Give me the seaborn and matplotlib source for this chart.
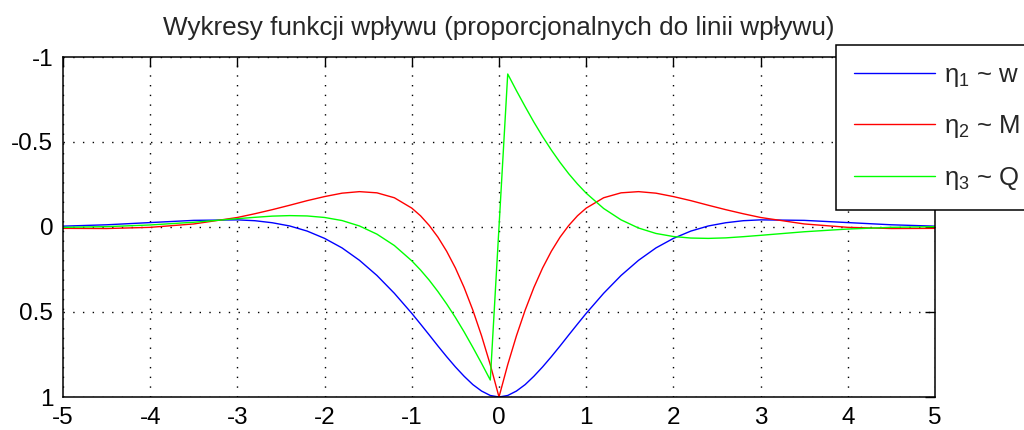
import matplotlib
matplotlib.use("Agg")
import matplotlib.pyplot as plt
import seaborn as sns
import pandas as pd

x = [-5.0, -4.5, -4.0, -3.5, -3.0, -2.8, -2.6, -2.4, -2.2, -2.0, -1.8, -1.6, -1.4, -1.2,
     -1.0, -0.9, -0.8, -0.7, -0.6, -0.5, -0.4, -0.3, -0.2, -0.1, 0.0,
     0.1, 0.2, 0.3, 0.4, 0.5, 0.6, 0.7, 0.8, 0.9, 1.0,
     1.2, 1.4, 1.6, 1.8, 2.0, 2.2, 2.4, 2.6, 2.8, 3.0, 3.5, 4.0, 4.5, 5.0]

eta1 = [-0.005, -0.013, -0.026, -0.039, -0.042, -0.037, -0.025, -0.006, 0.024, 0.067, 0.123, 0.196,
        0.285, 0.390, 0.508, 0.571, 0.635, 0.700, 0.763, 0.823, 0.878, 0.927, 0.965, 0.991, 1.000,
        0.991, 0.965, 0.927, 0.878, 0.823, 0.763, 0.700, 0.635, 0.571, 0.508,
        0.390, 0.285, 0.196, 0.123, 0.067, 0.024, -0.006, -0.025, -0.037, -0.042, -0.039, -0.026, -0.013, -0.005]

eta2 = [0.008, 0.009, 0.002, -0.018, -0.056, -0.078, -0.102, -0.128, -0.155, -0.179, -0.199, -0.208,
        -0.201, -0.172, -0.111, -0.066, -0.009, 0.060, 0.143, 0.241, 0.356, 0.489, 0.640, 0.810, 1.000,
        0.810, 0.640, 0.489, 0.356, 0.241, 0.143, 0.060, -0.009, -0.066, -0.111,
        -0.172, -0.201, -0.208, -0.199, -0.179, -0.155, -0.128, -0.102, -0.078, -0.056, -0.018, 0.002, 0.009, 0.008]

eta3 = [0.002, -0.002, -0.012, -0.028, -0.049, -0.057, -0.064, -0.067, -0.065, -0.056, -0.038, -0.006,
        0.042, 0.109, 0.199, 0.253, 0.313, 0.380, 0.453, 0.532, 0.617, 0.708, 0.802, 0.900, 0.000,
        -0.900, -0.802, -0.708, -0.617, -0.532, -0.453, -0.380, -0.313, -0.253, -0.199,
        -0.109, -0.042, 0.006, 0.038, 0.056, 0.065, 0.067, 0.064, 0.057, 0.049, 0.028, 0.012, 0.002, -0.002]

labels = [r"$\eta_1$ ~ w", r"$\eta_2$ ~ M", r"$\eta_3$ ~ Q"]
colors = ["#0000ff", "#ff0000", "#00ff00"]
xticks = [-5, -4, -3, -2, -1, 0, 1, 2, 3, 4, 5]
xticklabels = ["-5", "-4", "-3", "-2", "-1", "0", "1", "2", "3", "4", "5"]
yticks = [-1, -0.5, 0, 0.5, 1]
yticklabels = ["-1", "-0.5", "0", "0.5", "1"]
title = "Wykresy funkcji wpływu (proporcjonalnych do linii wpływu)"

sns.set_style("white")
plt.rcParams["font.family"] = ["Liberation Sans", "DejaVu Sans"]
plt.rcParams["mathtext.fontset"] = "custom"
plt.rcParams["mathtext.rm"] = "Liberation Sans"
plt.rcParams["mathtext.it"] = "Liberation Sans"
plt.rcParams["mathtext.bf"] = "Liberation Sans:bold"

FS = 17.5
fig = plt.figure(figsize=(10.24, 4.30), dpi=100)
ax = fig.add_axes([63 / 1024, 1 - 397 / 430, (935 - 63) / 1024, (397 - 57) / 430])

for vals, lab, col in zip([eta1, eta2, eta3], labels, colors):
    df = pd.DataFrame({"x": x, "y": vals})
    sns.lineplot(data=df, x="x", y="y", ax=ax, color=col, linewidth=1.0,
                 estimator=None, sort=False, label=lab)

ax.set_xlim(-5, 5)
ax.set_ylim(1, -1)
ax.set_xticks(xticks)
ax.set_xticklabels(xticklabels)
ax.set_yticks(yticks)
ax.set_yticklabels(yticklabels)
ax.set_xlabel("")
ax.set_ylabel("")
ax.tick_params(direction="in", length=7, width=1.0, top=True, right=True,
               labelsize=FS, pad=7, colors="black")
ax.grid(True, color="black", linestyle=(0, (1, 6)), linewidth=1.0)
for s in ax.spines.values():
    s.set_visible(True)
    s.set_color("black")
    s.set_linewidth(1.1)
ax.set_title(title, fontsize=18.8, pad=16)

handles, labs = ax.get_legend_handles_labels()
leg = ax.legend(handles, labs, loc="upper left", bbox_to_anchor=(836 / 1024, 1 - 45 / 430),
                bbox_transform=fig.transFigure, fontsize=18.5, frameon=True, fancybox=False,
                framealpha=1, edgecolor="black", handlelength=3.15, handletextpad=0.35,
                labelspacing=0.95, borderpad=0.7, borderaxespad=0)
leg.get_frame().set_linewidth(1.1)

fig.savefig("out.png", dpi=100)
